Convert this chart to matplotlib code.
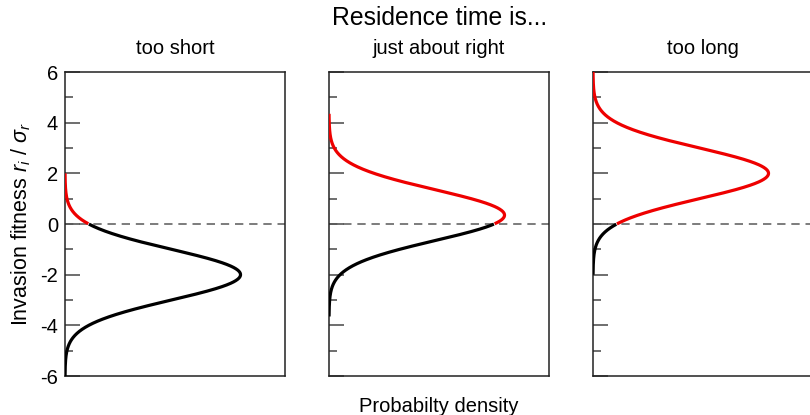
import numpy as np
import matplotlib
matplotlib.use('Agg')
import matplotlib.pyplot as plt

plt.rcParams['font.family'] = ['Liberation Sans', 'DejaVu Sans']
plt.rcParams['mathtext.fontset'] = 'custom'
plt.rcParams['mathtext.rm'] = 'Liberation Sans'
plt.rcParams['mathtext.it'] = 'Liberation Sans:italic'
plt.rcParams['axes.unicode_minus'] = False

# three scenarios: centre and spread of the invasion fitness distribution
panel_titles = ['too short', 'just about right', 'too long']
centres = [-2.0, 0.35, 2.0]
spread = 1.0
span = 4.0          # curve drawn over centre +/- span
yticks_major = [-6, -4, -2, 0, 2, 4, 6]
yticks_minor = [-5, -3, -1, 1, 3, 5]

fig = plt.figure(figsize=(8.1, 4.15), dpi=100)
W, H = 810, 415
lefts = [65, 329, 593]

for k in range(3):
    ax = fig.add_axes([lefts[k] / W, (H - 376) / H, 220 / W, 304 / H])
    mu = centres[k]
    y = np.linspace(mu - span, mu + span, 600)
    dens = np.exp(-0.5 * ((y - mu) / spread) ** 2) / (spread * np.sqrt(2 * np.pi))

    ax.axhline(0, color='#666666', lw=1.2, ls=(0, (5, 3.5)), zorder=1)
    neg = y <= 0
    pos = y >= 0
    ax.plot(dens[neg], y[neg], color='black', lw=2.3, zorder=3, solid_capstyle='butt')
    ax.plot(dens[pos], y[pos], color='#ee0000', lw=2.3, zorder=3, solid_capstyle='butt')

    ax.set_xlim(0, 0.5)
    ax.set_ylim(-6, 6)
    ax.set_xticks([])
    ax.set_yticks(yticks_major)
    ax.set_yticks(yticks_minor, minor=True)
    ax.tick_params(axis='y', which='major', direction='in', length=11,
                   width=1.2, color='#555555', labelsize=14.5, pad=5)
    ax.tick_params(axis='y', which='minor', direction='in', length=6,
                   width=1.2, color='#555555')
    if k > 0:
        ax.tick_params(axis='y', labelleft=False)
    for s in ax.spines.values():
        s.set_color('#222222')
        s.set_linewidth(1.1)
    ax.set_title(panel_titles[k], fontsize=14.5, pad=13)

    if k == 0:
        ax.set_ylabel(r'Invasion fitness $r_i$ / $\sigma_r$', fontsize=15.5, labelpad=5)
    if k == 1:
        ax.set_xlabel('Probabilty density', fontsize=14.5, labelpad=15)

fig.text(440 / W, 1 - 18 / H, 'Residence time is...', fontsize=17.8,
         ha='center', va='center')

fig.savefig('out.png', dpi=100)
